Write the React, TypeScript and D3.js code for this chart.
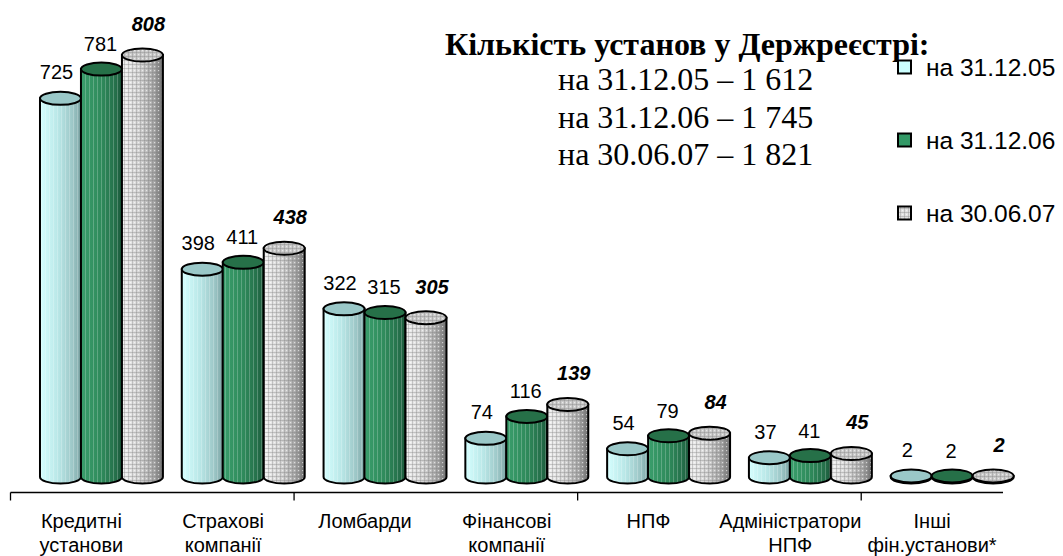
import React from "react";
import * as d3 from "d3";

const categories = [
  ["Кредитні", "установи"],
  ["Страхові", "компанії"],
  ["Ломбарди"],
  ["Фінансові", "компанії"],
  ["НПФ"],
  ["Адміністратори", "НПФ"],
  ["Інші", "фін.установи*"],
];
const seriesNames = ["на 31.12.05", "на 31.12.06", "на 30.06.07"];
const values2005 = [725, 398, 322, 74, 54, 37, 2];
const values2006 = [781, 411, 315, 116, 79, 41, 2];
const values2007 = [808, 438, 305, 139, 84, 45, 2];
const series = [values2005, values2006, values2007];
const titleText = "Кількість установ у Держреєстрі:";
const totalLines = ["на 31.12.05 – 1 612", "на 31.12.06 – 1 745", "на 30.06.07 – 1 821"];

const W = 1063;
const H = 556;
const SANS = "'Liberation Sans', Arial, sans-serif";
const SERIF = "'Liberation Serif', 'Times New Roman', serif";

const bodyGrad = ["gCyan", "gGreen", "gGrey"];
const topFill = ["#9ac8c8", "#267048", "#c9c9c9"];
const legendFill = ["#ccffff", "#339966", "#e0e0e0"];
const overlay = ["pStripe", "pStripe", "pDots"];
const topOverlay = [null, null, "pDots"];
const labelDx = [-4, -1, 6];
const labelDy = [26, 25, 31];

export default function App() {
  const catIdx = categories.map((_, i) => String(i));
  const x = d3.scaleBand().domain(catIdx).range([10.5, 1003]).paddingInner(0).paddingOuter(0);
  const bw = x.bandwidth();
  const cw = bw * 0.289;
  const gOff = bw * 0.208;
  const maxV = d3.max(values2007) as number;
  const y = d3.scaleLinear().domain([0, maxV]).range([477, 55]);
  const ry = 6.5;
  const rx = cw / 2;
  const base = y(0);
  const axisY = 492.5;

  const cyl = (s: number, i: number, v: number) => {
    const x0 = (x(String(i)) as number) + gOff + cw * s;
    const x1 = x0 + cw;
    const yt = y(v);
    const yb = base;
    const body = `M${x0},${yt} L${x0},${yb} A${rx},${ry} 0 0 0 ${x1},${yb} L${x1},${yt} Z`;
    const cx = (x0 + x1) / 2;
    return (
      <g key={`${s}-${i}`}>
        <path d={body} fill={`url(#${bodyGrad[s]})`} />
        <path d={body} fill={`url(#${overlay[s]})`} />
        <path d={body} fill="none" stroke="#000" strokeWidth={2} />
        <ellipse cx={cx} cy={yt} rx={rx} ry={ry} fill={topFill[s]} stroke="#000" strokeWidth={2} />
        {topOverlay[s] && <ellipse cx={cx} cy={yt} rx={rx - 1} ry={ry - 1} fill={`url(#${topOverlay[s]})`} />}
      </g>
    );
  };

  const labels = series.flatMap((vals, s) =>
    vals.map((v, i) => {
      const x0 = (x(String(i)) as number) + gOff + cw * s;
      return (
        <text
          key={`l${s}-${i}`}
          x={x0 + cw / 2 + labelDx[s]}
          y={y(v) - labelDy[s]}
          textAnchor="middle"
          dominantBaseline="central"
          fontFamily={SANS}
          fontSize={20}
          fontWeight={s === 2 ? "bold" : "normal"}
          fontStyle={s === 2 ? "italic" : "normal"}
          fill="#000"
        >
          {v}
        </text>
      );
    })
  );

  const ticks = catIdx.filter((_, i) => i % 2 === 0).map((c) => x(c) as number);

  return (
    <svg width={W} height={H} style={{ position: "absolute", left: 0, top: 0, background: "#fff" }}>
      <defs>
        <linearGradient id="gCyan" x1="0" x2="1" y1="0" y2="0">
          <stop offset="0%" stopColor="#d6ffff" />
          <stop offset="45%" stopColor="#b8e6e6" />
          <stop offset="80%" stopColor="#9cc6c6" />
          <stop offset="100%" stopColor="#7ea6a6" />
        </linearGradient>
        <linearGradient id="gGreen" x1="0" x2="1" y1="0" y2="0">
          <stop offset="0%" stopColor="#3a9e6c" />
          <stop offset="50%" stopColor="#2f8a5b" />
          <stop offset="85%" stopColor="#256f4a" />
          <stop offset="100%" stopColor="#1b583a" />
        </linearGradient>
        <linearGradient id="gGrey" x1="0" x2="1" y1="0" y2="0">
          <stop offset="0%" stopColor="#f2f2f2" />
          <stop offset="45%" stopColor="#d2d2d2" />
          <stop offset="80%" stopColor="#a2a2a2" />
          <stop offset="100%" stopColor="#6a6a6a" />
        </linearGradient>
        <pattern id="pStripe" width={4} height={10} patternUnits="userSpaceOnUse">
          <rect x={1} y={0} width={1} height={10} fill="#ffffff" opacity={0.22} />
        </pattern>
        <pattern id="pDots" width={4} height={4} patternUnits="userSpaceOnUse">
          <rect x={0} y={0} width={4} height={1} fill="#808080" opacity={0.35} />
          <rect x={0} y={0} width={1} height={4} fill="#808080" opacity={0.35} />
          <rect x={2} y={2} width={1.2} height={1.2} fill="#ffffff" opacity={0.6} />
        </pattern>
      </defs>

      {series.map((vals, s) => vals.map((v, i) => ({ s, i, v }))).flat()
        .sort((a, b) => a.i - b.i || a.s - b.s)
        .map((d) => cyl(d.s, d.i, d.v))}

      {labels}

      <line x1={10.5} x2={1003} y1={axisY} y2={axisY} stroke="#000" strokeWidth={1.3} />
      {ticks.map((t, k) => (
        <line key={k} x1={t} x2={t} y1={axisY} y2={axisY + 8} stroke="#000" strokeWidth={1.3} />
      ))}

      {categories.map((lines, i) => {
        const cx = (x(String(i)) as number) + bw / 2;
        return (
          <text key={`c${i}`} textAnchor="middle" fontFamily={SANS} fontSize={20} fill="#000">
            {lines.map((ln, k) => (
              <tspan key={k} x={cx} y={528 + k * 24}>
                {ln}
              </tspan>
            ))}
          </text>
        );
      })}

      <text x={445} y={55} fontFamily={SERIF} fontSize={32} fontWeight="bold" fill="#000">
        {titleText}
      </text>
      {totalLines.map((t, k) => (
        <text key={`t${k}`} x={558} y={90 + k * 37.5} fontFamily={SERIF} fontSize={32} fill="#000">
          {t}
        </text>
      ))}

      {seriesNames.map((n, s) => {
        const cy = 67 + s * 73;
        return (
          <g key={`lg${s}`}>
            <rect x={898} y={cy - 6.5} width={13} height={13} fill={legendFill[s]} />
            {s === 2 && <rect x={898} y={cy - 6.5} width={13} height={13} fill="url(#pDots)" />}
            <rect x={898} y={cy - 6.5} width={13} height={13} fill="none" stroke="#000" strokeWidth={2} />
            <text x={926} y={cy} dominantBaseline="central" fontFamily={SANS} fontSize={24.5} fill="#000">
              {n}
            </text>
          </g>
        );
      })}
    </svg>
  );
}
